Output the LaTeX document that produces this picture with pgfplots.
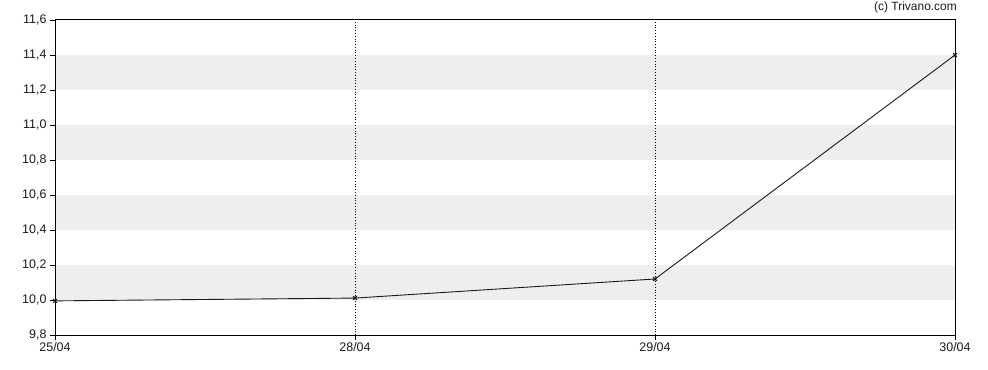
\documentclass[border=0pt]{standalone}
\usepackage{pgfplots}
\pgfplotsset{compat=1.18}
\usepackage{fontspec}
\setmainfont{Liberation Sans}
\definecolor{band}{HTML}{EEEEEE}
\definecolor{tl}{HTML}{1A1A1A}
\begin{document}
\begin{tikzpicture}[x=1bp,y=1bp]
\path[use as bounding box] (-55bp,-35bp) rectangle (933bp,335bp);
\begin{axis}[
  at={(0,0)}, anchor=south west,
  scale only axis, width=900bp, height=315bp,
  xmin=0, xmax=3, ymin=9.8, ymax=11.6,
  xtick={0,1,2,3}, xticklabels={25/04,28/04,29/04,30/04},
  ytick={9.8,10.0,10.2,10.4,10.6,10.8,11.0,11.2,11.4,11.6},
  yticklabel style={/pgf/number format/.cd,fixed,fixed zerofill,precision=1,use comma},
  /pgf/number format/assume math mode=true,
  tick align=outside, major tick length=5bp,
  xtick pos=bottom, ytick pos=left,
  tick style={black, line width=0.9pt},
  ticklabel style={font=\fontsize{12.5}{14}\selectfont, text=tl},
  xticklabel style={yshift=1bp},
  axis line style={black, line width=1pt},
  axis on top=true,
  clip=false,
]
\fill[band] (axis cs:0,10.0) rectangle (axis cs:3,10.2);
\fill[band] (axis cs:0,10.4) rectangle (axis cs:3,10.6);
\fill[band] (axis cs:0,10.8) rectangle (axis cs:3,11.0);
\fill[band] (axis cs:0,11.2) rectangle (axis cs:3,11.4);
\draw[black, dotted, line width=0.8pt] (axis cs:1,9.8) -- (axis cs:1,11.6);
\draw[black, dotted, line width=0.8pt] (axis cs:2,9.8) -- (axis cs:2,11.6);
\addplot[color=tl, line width=0.9pt, mark=x, mark size=2.6pt, mark options={line width=1.2pt}] coordinates {
  (0,9.995) (1,10.011) (2,10.12) (3,11.40)
};
\node[anchor=south east, font=\fontsize{12}{14}\selectfont, text=tl, inner sep=0pt] at ([xshift=2bp,yshift=7bp]rel axis cs:1,1) {(c) Trivano.com};
\end{axis}
\end{tikzpicture}
\end{document}
